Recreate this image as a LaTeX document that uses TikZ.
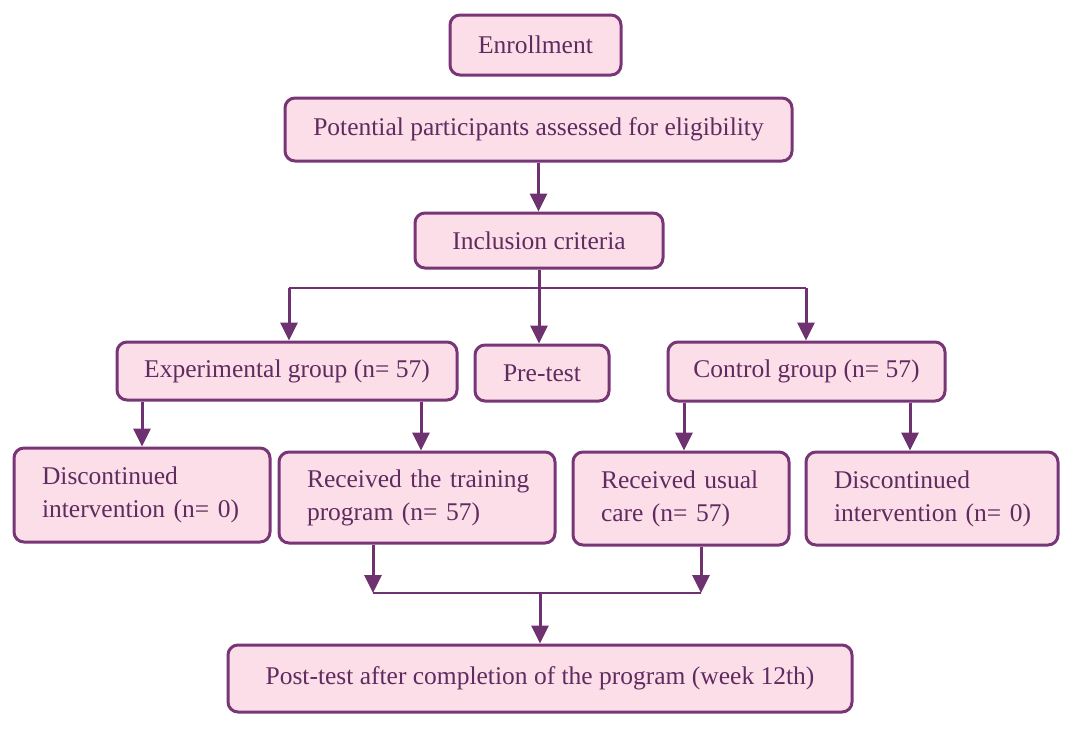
\documentclass[tikz,border=0pt]{standalone}
\usepackage{fontspec}
\setmainfont{Liberation Serif}
\usetikzlibrary{arrows.meta,calc}
\definecolor{boxfill}{RGB}{252,222,233}
\definecolor{boxdraw}{RGB}{120,54,118}
\definecolor{txt}{RGB}{96,44,96}
\definecolor{arrcol}{RGB}{110,50,112}
\hbadness=10000 \hfuzz=100pt
\tikzset{
  box/.style={draw=boxdraw, fill=boxfill, line width=3pt, rounded corners=10pt,
    text=txt, font=\fontsize{25.5}{33}\selectfont, inner sep=0pt, align=center},
  mbox/.style={draw=boxdraw, fill=boxfill, line width=3pt, rounded corners=10pt,
    text=txt, font=\fontsize{25.5}{33}\selectfont, inner xsep=28pt, inner ysep=0pt, align=left},
  arr/.style={draw=arrcol, line width=3pt, -{Triangle[width=17pt,length=18pt]}},
  thin/.style={draw=arrcol, line width=1.8pt},
}
\begin{document}
\begin{tikzpicture}[x=1pt,y=-1pt]
\useasboundingbox (0,0) rectangle (1079,732);
\node[box, minimum width=171pt, minimum height=60pt] (enr) at (535.5,45) {Enrollment};
\node[box, minimum width=507pt, minimum height=63pt] (pot) at (538.5,129.5) {Potential participants assessed for eligibility};
\node[box, minimum width=248pt, minimum height=55pt] (inc) at (539,240.5) {Inclusion criteria};
\node[box, minimum width=340pt, minimum height=58pt] (exp) at (287,371) {Experimental group (n= 57)};
\node[box, minimum width=134pt, minimum height=56pt] (pre) at (542,373) {Pre-test};
\node[box, minimum width=277pt, minimum height=59pt] (con) at (806.5,371.5) {Control group (n= 57)};
\node[mbox, text width=200pt, minimum height=94pt] (dl) at (142,495) {\mbox{Discontinued}\\\mbox{intervention (n= 0)}};
\node[mbox, text width=220pt, minimum height=91pt] (tr) at (417,497.5) {\mbox{Received the training}\\\mbox{program (n= 57)}};
\node[mbox, text width=160pt, minimum height=93pt] (us) at (681,498.5) {\mbox{Received usual}\\\mbox{care (n= 57)}};
\node[mbox, text width=196pt, minimum height=93pt] (dr) at (932,498.5) {\mbox{Discontinued}\\\mbox{intervention (n= 0)}};
\node[box, minimum width=624pt, minimum height=67pt] (post) at (540,678.5) {Post-test after completion of the program (week 12th)};
\coordinate (hl) at (289,288);
\coordinate (hr) at (806,288);
\coordinate (bl) at (373,593);
\coordinate (br) at (701,593);
\draw[arr] (pot.south) -- (pot.south |- inc.north);
\draw[thin] (hl) -- (hr);
\draw[arr] (inc.south) -- (inc.south |- pre.north);
\draw[arr] (hl) -- (hl |- exp.north);
\draw[arr] (hr) -- (hr |- con.north);
\draw[arr] (exp.south -| dl.north) -- (dl.north);
\draw[arr] ($(exp.south -| tr.north)+(4,0)$) -- ($(tr.north)+(4,0)$);
\draw[arr] ($(con.south -| us.north)+(3,0)$) -- ($(us.north)+(3,0)$);
\draw[arr] ($(con.south -| dr.north)+(-22,0)$) -- ($(dr.north)+(-22,0)$);
\draw[arr] (tr.south -| bl) -- (bl);
\draw[arr] (us.south -| br) -- (br);
\draw[thin] (bl) -- (br);
\draw[arr] (post.north |- bl) -- (post.north);
\end{tikzpicture}
\end{document}
